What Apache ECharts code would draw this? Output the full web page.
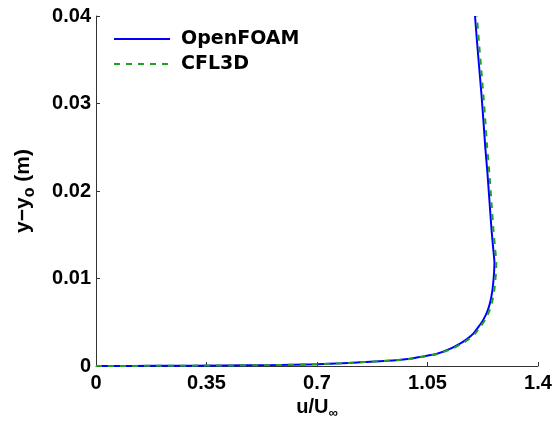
<!DOCTYPE html>
<html>
<head>
<meta charset="utf-8">
<script src="https://cdn.jsdelivr.net/npm/echarts@6/dist/echarts.min.js"></script>
<style>
  html, body { margin: 0; padding: 0; background: #fff; }
  #chart { width: 555px; height: 421px; }
</style>
</head>
<body>
<div id="chart"></div>
<script>
// Velocity profile u/U∞ against wall distance y−y_o (m)
const yValues = [0, 0.00002, 0.00006, 0.0001, 0.0002, 0.00032, 0.00045, 0.00065, 0.00085, 0.00105,
  0.0014, 0.00195, 0.00255, 0.0031, 0.0037, 0.0045, 0.0053, 0.0062, 0.0072, 0.0085, 0.0098, 0.0108,
  0.0118, 0.0135, 0.0155, 0.0185, 0.022, 0.025, 0.0281, 0.031, 0.034, 0.037, 0.04];
const openfoamU = [0, 0.2, 0.4, 0.55, 0.7, 0.78, 0.85, 0.95, 1.0, 1.03,
  1.08, 1.121, 1.153, 1.176, 1.195, 1.212, 1.227, 1.239, 1.248, 1.255, 1.259, 1.261,
  1.262, 1.258, 1.253, 1.247, 1.240, 1.233, 1.227, 1.221, 1.214, 1.207, 1.2005];
const cfl3dU = [0, 0.2, 0.4, 0.55, 0.7, 0.78, 0.85, 0.952, 1.003, 1.034,
  1.085, 1.127, 1.159, 1.182, 1.201, 1.218, 1.233, 1.245, 1.254, 1.261, 1.265, 1.267,
  1.268, 1.264, 1.259, 1.253, 1.246, 1.239, 1.233, 1.227, 1.220, 1.213, 1.2065];
const xTicks = [0, 0.35, 0.7, 1.05, 1.4];
const yTicks = [0, 0.01, 0.02, 0.03, 0.04];

const pair = (us) => us.map((u, i) => [u, yValues[i]]);

const FONT = 'Liberation Sans, Arial, sans-serif';
const axisFont = { fontFamily: FONT, fontWeight: 'bold', fontSize: 20, color: '#000' };
const axisLine = { show: true, lineStyle: { color: '#333', width: 1 } };
const fmt = (v) => String(Math.round(v * 100) / 100);

const chart = echarts.init(document.getElementById('chart'), null, { renderer: 'canvas' });
chart.setOption({
  animation: false,
  backgroundColor: '#fff',
  grid: { left: 96, right: 17, top: 16, bottom: 55, containLabel: false, outerBoundsMode: 'none' },
  legend: {
    left: 108, top: 24, orient: 'vertical', itemWidth: 56, itemHeight: 12, itemGap: 5,
    itemStyle: { opacity: 0 },
    textStyle: { fontFamily: 'DejaVu Sans, sans-serif', fontWeight: 'bold', fontSize: 19, lineHeight: 20, color: '#000', padding: [0, 0, 0, 6] },
    data: [{ name: 'OpenFOAM' }, { name: 'CFL3D' }]
  },
  xAxis: {
    type: 'value', min: xTicks[0], max: xTicks[xTicks.length - 1], interval: 0.35,
    splitLine: { show: false }, axisLine: axisLine,
    axisTick: { show: true, inside: true, length: 4, lineStyle: { color: '#333' } },
    axisLabel: Object.assign({ margin: 7, formatter: fmt }, axisFont),
    name: 'u/U{sub|∞}', nameLocation: 'middle', nameGap: 20,
    nameTextStyle: Object.assign({}, axisFont, {
      rich: { sub: { fontFamily: FONT, fontWeight: 'bold', fontSize: 13, color: '#000', padding: [0, 0, -12, 0] } }
    })
  },
  yAxis: {
    type: 'value', min: yTicks[0], max: yTicks[yTicks.length - 1], interval: 0.01,
    splitLine: { show: false }, axisLine: axisLine,
    axisTick: { show: true, inside: true, length: 4, lineStyle: { color: '#333' } },
    axisLabel: Object.assign({ margin: 5, formatter: fmt }, axisFont),
    name: 'y−y{sub|o} (m)', nameLocation: 'middle', nameGap: 62, nameRotate: 90,
    nameTextStyle: Object.assign({}, axisFont, {
      fontSize: 21,
      rich: { sub: { fontFamily: FONT, fontWeight: 'bold', fontSize: 16, color: '#000', padding: [0, 0, -12, 0] } }
    })
  },
  series: [
    {
      name: 'OpenFOAM', type: 'line', symbol: 'none', smooth: 0.2,
      data: pair(openfoamU),
      lineStyle: { color: '#0000ff', width: 2 }, itemStyle: { color: '#0000ff' }
    },
    {
      name: 'CFL3D', type: 'line', symbol: 'none', smooth: 0.2,
      data: pair(cfl3dU),
      lineStyle: { color: '#22a022', width: 2, type: [6, 6] }, itemStyle: { color: '#22a022' }
    }
  ]
});
</script>
</body>
</html>
